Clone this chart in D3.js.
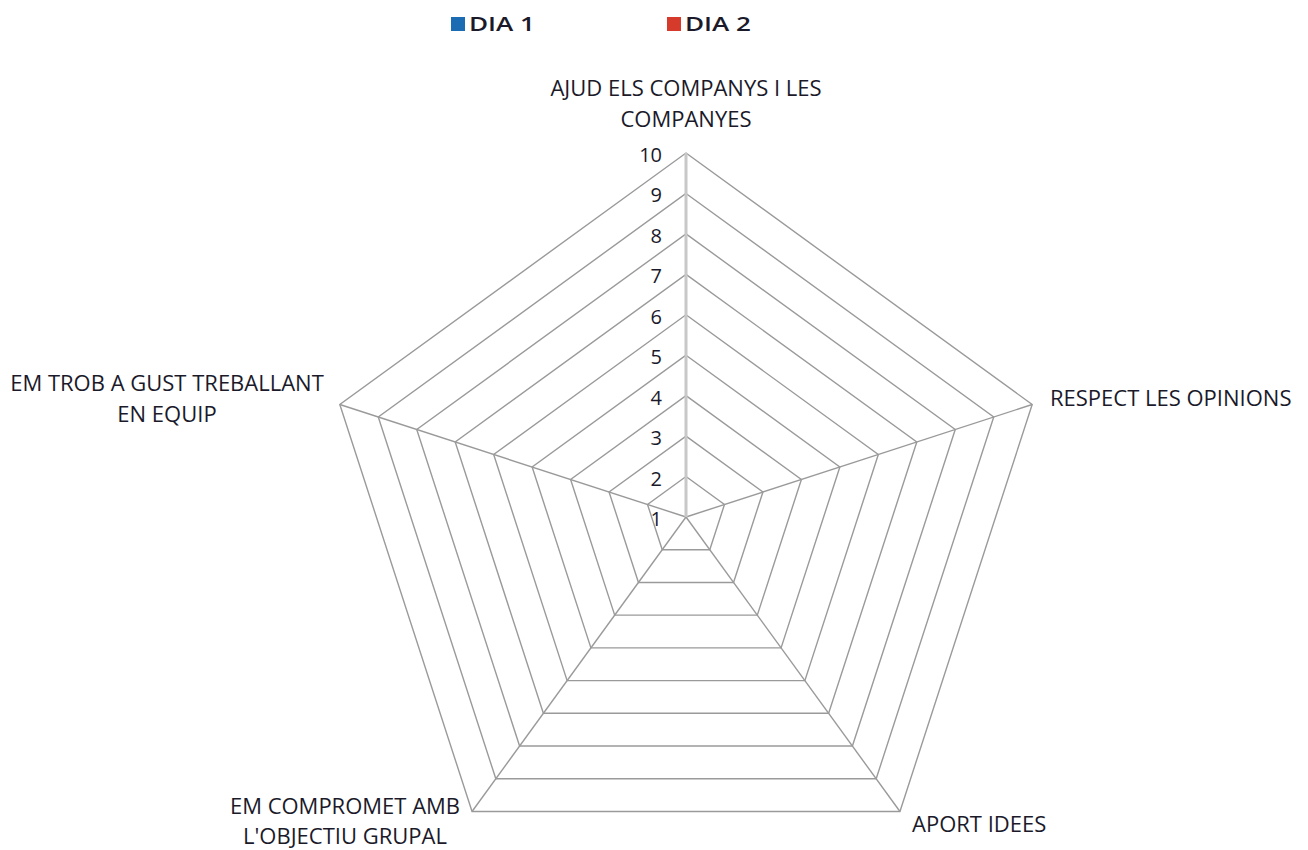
<!DOCTYPE html>
<html>
<head>
<meta charset="utf-8">
<script src="https://cdn.jsdelivr.net/npm/d3@7"></script>
<style>
  body { margin: 0; background: #fff; }
  text { font-family: "Open Sans", "Liberation Sans", sans-serif; fill: #1a1a2a; }
</style>
</head>
<body>
<div id="chart"></div>
<script>
// categories (axes), clockwise from the top
const categories = [
  ['AJUD ELS COMPANYS I LES', 'COMPANYES'],
  ['RESPECT LES OPINIONS'],
  ['APORT IDEES'],
  ['EM COMPROMET AMB', "L'OBJECTIU GRUPAL"],
  ['EM TROB A GUST TREBALLANT', 'EN EQUIP']
];

// series: nothing plotted in the reference
const seriesNames = ['DIA 1', 'DIA 2'];
const seriesColors = ['#1b6cb3', '#d63a2a'];
const dia1 = [null, null, null, null, null];
const dia2 = [null, null, null, null, null];

// value axis
const tickValues = [1, 2, 3, 4, 5, 6, 7, 8, 9, 10];

const width = 1308, height = 850;
const cx = 686, cy = 517, radius = 364;

const svg = d3.select('#chart').append('svg')
  .attr('width', width)
  .attr('height', height);

const r = d3.scaleLinear().domain([1, 10]).range([0, radius]);
const angle = d3.scaleLinear().domain([0, categories.length]).range([0, 2 * Math.PI]);

const pt = (i, v) => {
  const a = angle(i);
  return [cx + r(v) * Math.sin(a), cy - r(v) * Math.cos(a)];
};

const g = svg.append('g');

// rings
tickValues.slice(1).forEach(v => {
  g.append('polygon')
    .attr('points', categories.map((c, i) => pt(i, v).join(',')).join(' '))
    .attr('fill', 'none')
    .attr('stroke', '#9a9a9a')
    .attr('stroke-width', 1.4);
});

// spokes
categories.forEach((c, i) => {
  if (i === 0) return;
  const [x, y] = pt(i, 10);
  g.append('line')
    .attr('x1', cx).attr('y1', cy)
    .attr('x2', x).attr('y2', y)
    .attr('stroke', '#9a9a9a')
    .attr('stroke-width', 1.4);
});

// value axis
g.append('line')
  .attr('x1', cx).attr('y1', cy)
  .attr('x2', cx).attr('y2', cy - r(10))
  .attr('stroke', '#c8c8c8')
  .attr('stroke-width', 3);

g.selectAll('.tick')
  .data(tickValues)
  .enter()
  .append('text')
  .attr('x', cx - 24)
  .attr('y', d => cy - r(d) + 2)
  .attr('dy', '0.35em')
  .attr('text-anchor', 'end')
  .style('font-size', '20px')
  .text(d => d);

// series
const line = d3.line().defined(d => d[2] != null);
[dia1, dia2].forEach((vals, s) => {
  const pts = vals.map((v, i) => v == null ? [0, 0, null] : [...pt(i, v), v]);
  if (pts.some(p => p[2] != null)) {
    g.append('path')
      .attr('d', line(pts.concat([pts[0]])))
      .attr('fill', 'none')
      .attr('stroke', seriesColors[s])
      .attr('stroke-width', 2.5);
  }
});

// category labels
const labelPos = [
  { x: 686, y: 88, anchor: 'middle', gap: 31.5 },
  { x: 1050, y: 398, anchor: 'start', gap: 0 },
  { x: 912, y: 824, anchor: 'start', gap: 0 },
  { x: 345, y: 806, anchor: 'middle', gap: 30 },
  { x: 167, y: 383, anchor: 'middle', gap: 31.5 }
];
categories.forEach((lines, i) => {
  const p = labelPos[i];
  const t = g.append('text')
    .attr('x', p.x)
    .attr('y', p.y)
    .attr('text-anchor', p.anchor)
    .style('font-size', '22px');
  lines.forEach((l, k) => {
    t.append('tspan')
      .attr('x', p.x)
      .attr('dy', k === 0 ? '0.35em' : p.gap + 'px')
      .text(l);
  });
});

// legend
const legendX = [451, 667];
seriesNames.forEach((name, s) => {
  const lg = svg.append('g').attr('transform', `translate(${legendX[s]},24)`);
  lg.append('rect')
    .attr('x', 0).attr('y', -7)
    .attr('width', 14).attr('height', 14)
    .attr('fill', seriesColors[s]);
  lg.append('text')
    .attr('x', 18)
    .attr('dy', '0.36em')
    .attr('textLength', 66)
    .attr('lengthAdjust', 'spacingAndGlyphs')
    .style('font-size', '20px')
    .style('font-weight', 600)
    .text(name);
});
</script>
</body>
</html>
